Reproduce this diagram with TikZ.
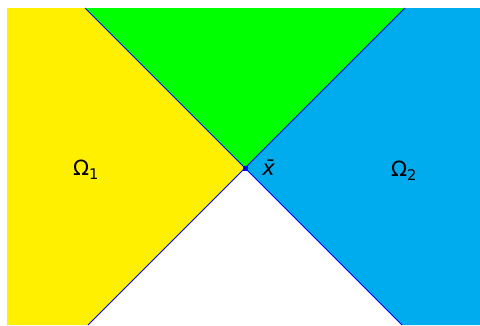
\documentclass[tikz,border=0pt]{standalone}
\usepackage{fontspec}
\setmainfont{DejaVu Sans}
\usetikzlibrary{calc}
\definecolor{ylw}{HTML}{FFF000}
\definecolor{grn}{HTML}{00FF00}
\definecolor{blu}{HTML}{00ABEE}
\begin{document}
\begin{tikzpicture}[x=1pt,y=-1pt,
  lab/.style={font=\fontsize{21}{24}\selectfont, inner sep=0pt},
  edge/.style={blue, line width=0.9pt}]
\useasboundingbox (0,0) rectangle (480,325);
\coordinate (c) at (245,168);
\coordinate (tl) at (85,8);
\coordinate (tr) at (405,8);
\coordinate (bl) at (88,325);
\coordinate (br) at (402,325);
\fill[ylw] (7,8) -- (tl) -- (c) -- (bl) -- (7,325) -- cycle;
\fill[grn] (tl) -- (tr) -- (c) -- cycle;
\fill[blu] (tr) -- (480,8) -- (480,325) -- (br) -- (c) -- cycle;
\draw[edge] (tl) -- (c) -- (tr);
\draw[edge] (bl) -- (c) -- (br);
\fill[blue] ($(c)+(-2.5,-2.5)$) rectangle ($(c)+(2.5,2.5)$);
\node[lab] (o1) at (86,170) {Ω\textsubscript{1}};
\node[lab] (o2) at (404,171) {Ω\textsubscript{2}};
\node[lab] (xb) at (269,168) {\textit{\=x}};
\end{tikzpicture}
\end{document}
